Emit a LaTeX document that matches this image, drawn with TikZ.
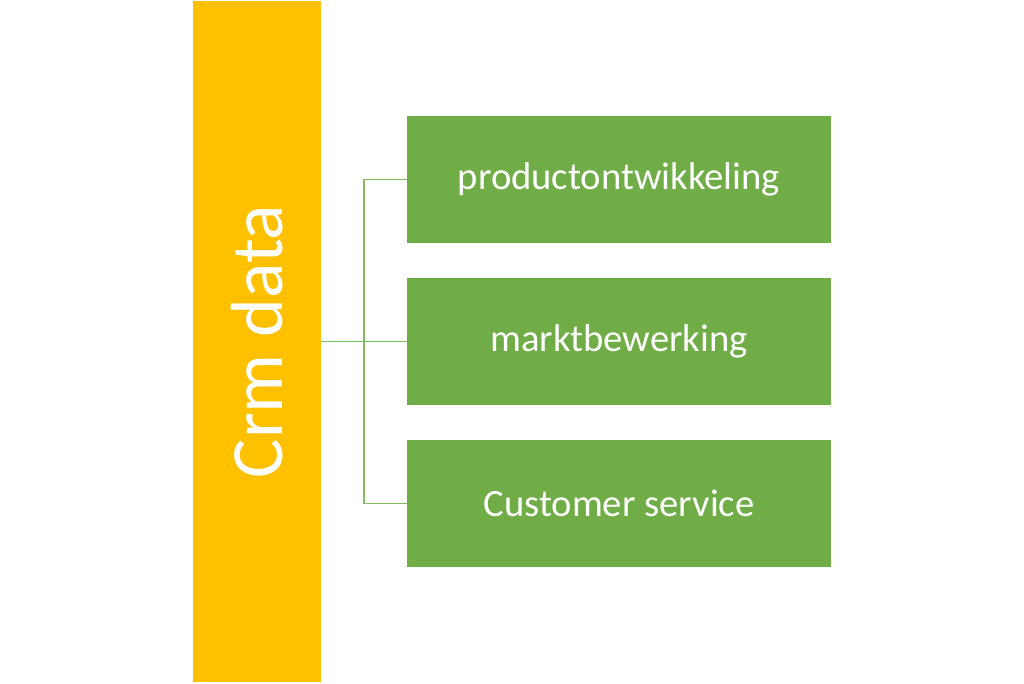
\documentclass[tikz,border=0pt]{standalone}
\usepackage{fontspec}
\setmainfont{Carlito}
\definecolor{crmorange}{HTML}{FFC000}
\definecolor{crmgreen}{HTML}{70AD47}

\begin{document}
\begin{tikzpicture}[
    bar/.style={fill=crmorange,minimum width=2.56cm,minimum height=13.62cm,inner sep=0pt},
    item/.style={fill=crmgreen,text=white,minimum width=8.48cm,minimum height=2.54cm,inner sep=0pt,font=\fontsize{22}{26}\selectfont},
    link/.style={draw=crmgreen!85!white,line width=1pt}]
    \useasboundingbox (0,0) rectangle (20.48,13.68);
    \node[bar] (crm) at (5.14,6.85) {};
    \node[rotate=90,text=white,font=\fontsize{42}{50}\selectfont] (crmtext) at (crm) {Crm data};
    \node[item] (prod) at (12.38,10.09) {productontwikkeling};
    \node[item] (markt) at (12.38,6.85) {marktbewerking};
    \node[item] (cust) at (12.38,3.61) {Customer service};
    \coordinate (split) at (7.28,6.85);
    \draw[link] (crm.east |- split) -- (markt.west);
    \draw[link] (prod.west) -- (prod.west -| split) -- (cust.west -| split) -- (cust.west);
\end{tikzpicture}
\end{document}
